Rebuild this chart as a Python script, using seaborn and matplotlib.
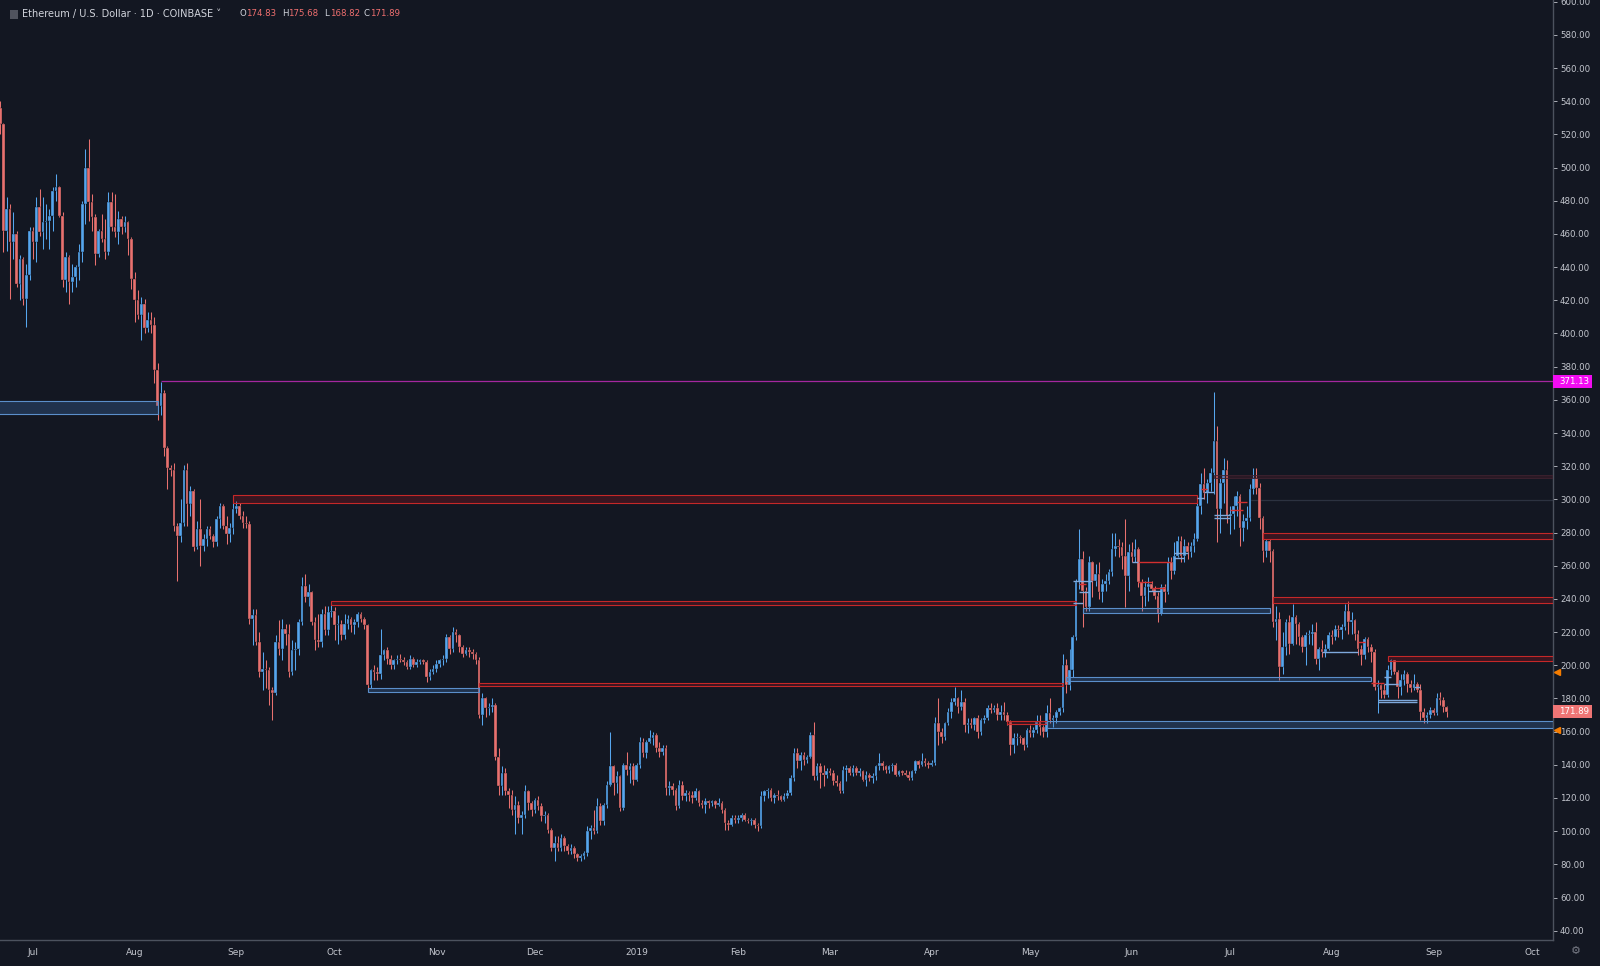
import matplotlib
matplotlib.use("Agg")
import matplotlib.pyplot as plt
import matplotlib.dates as mdates
from matplotlib.patches import Rectangle
from matplotlib.transforms import blended_transform_factory
import pandas as pd
import seaborn as sns

# daily candles: (open, high, low, close), one list per month
jun18 = [
    (536, 540, 520, 526), (526, 527, 449, 462), (462, 482, 450, 475), (475, 478, 421, 455),
    (455, 473, 445, 460), (460, 462, 428, 430), (430, 447, 420, 445), (445, 446, 417, 421),
    (421, 442, 404, 435), (435, 464, 432, 462),
]
jul18 = [
    (462, 464, 445, 455), (455, 482, 443, 476), (476, 487, 459, 461), (461, 482, 451, 467),
    (467, 478, 457, 468), (468, 475, 451, 471), (471, 488, 462, 486), (486, 496, 480, 488),
    (488, 489, 470, 471), (471, 473, 428, 432), (432, 449, 425, 446), (446, 447, 418, 431),
    (431, 442, 425, 434), (434, 441, 428, 440), (440, 454, 432, 449), (449, 480, 443, 478),
    (478, 511, 466, 500), (500, 517, 468, 479), (479, 484, 462, 470), (470, 472, 441, 448),
    (448, 463, 446, 462), (462, 472, 455, 457), (457, 469, 445, 449), (449, 485, 447, 479),
    (479, 485, 462, 464), (464, 484, 458, 461), (461, 474, 454, 469), (469, 471, 460, 464),
    (464, 471, 461, 467), (467, 468, 447, 457), (457, 458, 427, 433),
]
aug18 = [
    (433, 437, 407, 420), (420, 426, 409, 411), (411, 422, 396, 418), (418, 421, 400, 403),
    (403, 413, 401, 408), (408, 413, 400, 405), (405, 410, 370, 378), (378, 382, 348, 356),
    (356, 371, 351, 364), (364, 366, 326, 331), (331, 332, 306, 319), (319, 321, 314, 318),
    (318, 322, 281, 284), (284, 286, 251, 278), (278, 300, 274, 286), (286, 321, 284, 318),
    (318, 322, 284, 297), (297, 308, 290, 305), (305, 306, 269, 271), (271, 287, 270, 282),
    (282, 300, 260, 272), (272, 279, 269, 276), (276, 284, 272, 282), (282, 284, 276, 278),
    (278, 279, 271, 274), (274, 290, 272, 288), (288, 298, 283, 296), (296, 297, 282, 284),
    (284, 290, 273, 279), (279, 286, 274, 283), (283, 302, 279, 294),
]
sep18 = [
    (294, 299, 292, 296), (296, 298, 288, 290), (290, 293, 283, 286), (286, 290, 283, 285),
    (285, 287, 225, 228), (228, 234, 212, 230), (230, 234, 212, 214), (214, 220, 193, 196),
    (196, 208, 185, 198), (198, 203, 186, 197), (197, 199, 176, 185), (185, 187, 167, 183),
    (183, 218, 182, 214), (214, 227, 206, 210), (210, 228, 203, 222), (222, 225, 212, 219),
    (219, 225, 193, 196), (196, 215, 194, 209), (209, 214, 197, 210), (210, 228, 206, 226),
    (226, 253, 224, 248), (248, 255, 238, 241), (241, 249, 236, 244), (244, 245, 224, 226),
    (226, 229, 209, 215), (215, 231, 211, 214), (214, 234, 211, 231), (231, 236, 218, 221),
    (221, 236, 218, 232), (232, 238, 229, 233),
]
oct18 = [
    (233, 235, 215, 224), (224, 230, 213, 225), (225, 227, 215, 218), (218, 231, 216, 225),
    (225, 230, 222, 228), (228, 229, 220, 224), (224, 228, 219, 226), (226, 232, 223, 231),
    (231, 232, 226, 228), (228, 229, 222, 224), (224, 225, 185, 188), (188, 198, 186, 197),
    (197, 200, 191, 196), (196, 199, 191, 195), (195, 222, 192, 206), (206, 210, 203, 209),
    (209, 211, 201, 204), (204, 206, 198, 200), (200, 204, 198, 203), (203, 206, 201, 204),
    (204, 207, 202, 203), (203, 205, 200, 202), (202, 203, 198, 199), (199, 206, 198, 204),
    (204, 205, 199, 200), (200, 204, 199, 202), (202, 204, 201, 203), (203, 204, 201, 202),
    (202, 203, 190, 193), (193, 198, 191, 196), (196, 200, 195, 198),
]
nov18 = [
    (198, 203, 196, 201), (201, 204, 199, 203), (203, 206, 200, 204), (204, 219, 202, 217),
    (217, 218, 207, 210), (210, 223, 208, 220), (220, 222, 214, 218), (218, 219, 208, 211),
    (211, 212, 205, 207), (207, 211, 206, 209), (209, 211, 205, 208), (208, 210, 204, 207),
    (207, 208, 201, 203), (203, 205, 168, 170), (170, 183, 164, 180), (180, 181, 169, 174),
    (174, 177, 170, 175), (175, 180, 172, 176), (176, 177, 143, 145), (145, 150, 122, 127),
    (127, 139, 122, 135), (135, 138, 122, 124), (124, 126, 114, 122), (122, 125, 110, 113),
    (113, 121, 98, 116), (116, 118, 105, 108), (108, 112, 98, 110), (110, 128, 108, 124),
    (124, 125, 113, 117), (117, 118, 109, 113),
]
dec18 = [
    (113, 120, 111, 119), (119, 121, 113, 115), (115, 117, 106, 109), (109, 112, 105, 110),
    (110, 111, 99, 101), (101, 102, 88, 90), (90, 97, 82, 93), (93, 97, 88, 90),
    (90, 98, 88, 96), (96, 97, 88, 91), (91, 92, 86, 88), (88, 92, 86, 90),
    (90, 91, 84, 86), (86, 87, 82, 84), (84, 86, 82, 85), (85, 88, 83, 87),
    (87, 103, 85, 100), (100, 104, 95, 102), (102, 113, 98, 100), (100, 120, 99, 115),
    (115, 117, 104, 106), (106, 117, 104, 116), (116, 130, 114, 128), (128, 160, 127, 139),
    (139, 140, 122, 129), (129, 136, 123, 133), (133, 134, 112, 114), (114, 141, 113, 140),
    (140, 148, 134, 137), (137, 141, 129, 139), (139, 141, 128, 131),
]
jan19 = [
    (131, 141, 130, 140), (140, 157, 138, 154), (154, 156, 145, 147), (147, 155, 144, 154),
    (154, 161, 153, 156), (156, 160, 152, 158), (158, 159, 148, 150), (150, 154, 145, 148),
    (148, 152, 146, 150), (150, 152, 122, 126), (126, 130, 122, 127), (127, 129, 122, 125),
    (125, 126, 113, 115), (115, 131, 114, 128), (128, 130, 119, 121), (121, 125, 118, 123),
    (123, 124, 118, 122), (122, 124, 117, 120), (120, 126, 119, 124), (124, 125, 115, 117),
    (117, 119, 114, 116), (116, 120, 111, 118), (118, 119, 114, 117), (117, 119, 115, 118),
    (118, 119, 114, 116), (116, 120, 115, 117), (117, 118, 111, 113), (113, 114, 101, 105),
    (105, 107, 101, 104), (104, 110, 103, 108), (108, 110, 105, 107),
]
feb19 = [
    (107, 110, 105, 108), (108, 111, 106, 110), (110, 111, 106, 107), (107, 108, 105, 106),
    (106, 108, 104, 107), (107, 108, 102, 104), (104, 105, 100, 103), (103, 124, 102, 121),
    (121, 125, 118, 124), (124, 126, 120, 125), (125, 126, 118, 120), (120, 123, 117, 122),
    (122, 125, 119, 121), (121, 122, 118, 119), (119, 123, 118, 121), (121, 125, 120, 123),
    (123, 134, 122, 132), (132, 150, 130, 147), (147, 150, 138, 142), (142, 148, 137, 146),
    (146, 148, 140, 143), (143, 146, 141, 145), (145, 160, 144, 158), (158, 166, 131, 133),
    (133, 141, 131, 139), (139, 141, 126, 135), (135, 140, 127, 134), (134, 138, 132, 136),
]
mar19 = [
    (136, 138, 134, 135), (135, 137, 128, 130), (130, 134, 127, 129), (129, 130, 123, 124),
    (124, 139, 123, 137), (137, 140, 130, 138), (138, 139, 134, 135), (135, 140, 133, 138),
    (138, 139, 134, 135), (135, 138, 133, 136), (136, 137, 130, 131), (131, 136, 127, 134),
    (134, 135, 130, 132), (132, 135, 129, 133), (133, 140, 131, 139), (139, 147, 137, 141),
    (141, 142, 137, 139), (139, 140, 135, 137), (137, 140, 135, 139), (139, 141, 136, 140),
    (140, 141, 133, 134), (134, 137, 133, 136), (136, 137, 134, 135), (135, 137, 133, 134),
    (134, 136, 131, 132), (132, 137, 131, 136), (136, 143, 135, 142), (142, 143, 138, 140),
    (140, 147, 139, 142), (142, 144, 139, 141), (141, 142, 138, 140),
]
apr19 = [
    (140, 143, 139, 141), (141, 169, 140, 165), (165, 180, 152, 160), (160, 162, 153, 157),
    (157, 166, 155, 165), (165, 174, 164, 172), (172, 180, 168, 178), (178, 187, 176, 180),
    (180, 181, 171, 175), (175, 185, 173, 178), (178, 180, 160, 164), (164, 168, 159, 165),
    (165, 168, 162, 164), (164, 169, 161, 168), (168, 170, 156, 160), (160, 168, 158, 167),
    (167, 170, 165, 168), (168, 176, 167, 174), (174, 177, 171, 173), (173, 176, 172, 174),
    (174, 177, 167, 170), (170, 176, 167, 172), (172, 178, 167, 170), (170, 172, 164, 166),
    (166, 167, 146, 152), (152, 159, 147, 156), (156, 159, 152, 157), (157, 158, 153, 156),
    (156, 157, 149, 152), (152, 162, 151, 161),
]
may19 = [
    (161, 164, 157, 159), (159, 163, 157, 161), (161, 170, 159, 166), (166, 170, 158, 163),
    (163, 164, 157, 160), (160, 176, 157, 171), (171, 180, 165, 167), (167, 170, 163, 168),
    (168, 173, 165, 172), (172, 175, 170, 174), (174, 207, 172, 200), (200, 204, 183, 188),
    (188, 210, 185, 197), (197, 218, 193, 217), (217, 252, 215, 250), (250, 282, 246, 264),
    (264, 269, 223, 245), (245, 247, 233, 235), (235, 266, 233, 262), (262, 263, 241, 251),
    (251, 261, 248, 255), (255, 262, 240, 244), (244, 252, 238, 249), (249, 255, 245, 251),
    (251, 258, 249, 256), (256, 280, 254, 270), (270, 280, 266, 272), (272, 276, 265, 271),
    (271, 274, 258, 266), (266, 288, 235, 254), (254, 273, 245, 268),
]
jun19 = [
    (268, 274, 262, 265), (265, 276, 262, 270), (270, 271, 247, 250), (250, 252, 233, 242),
    (242, 251, 236, 247), (247, 253, 239, 249), (249, 251, 245, 246), (246, 248, 240, 242),
    (242, 244, 226, 231), (231, 249, 230, 247), (247, 249, 238, 244), (244, 265, 243, 262),
    (262, 265, 252, 257), (257, 274, 255, 266), (266, 278, 265, 275), (275, 278, 262, 266),
    (266, 276, 262, 272), (272, 274, 264, 268), (268, 274, 265, 272), (272, 280, 268, 276),
    (276, 298, 275, 296), (296, 316, 291, 309), (309, 319, 300, 304), (304, 312, 298, 310),
    (310, 319, 305, 316), (316, 365, 303, 335), (335, 344, 274, 294), (294, 313, 280, 310),
    (310, 325, 298, 318), (318, 324, 286, 290),
]
jul19 = [
    (290, 296, 279, 291), (291, 302, 282, 296), (296, 305, 290, 302), (302, 303, 272, 283),
    (283, 291, 275, 287), (287, 296, 282, 289), (289, 309, 287, 306), (306, 319, 303, 313),
    (313, 319, 303, 307), (307, 310, 282, 289), (289, 290, 262, 269), (269, 276, 265, 275),
    (275, 276, 262, 269), (269, 270, 223, 226), (226, 236, 215, 228), (228, 232, 191, 199),
    (199, 220, 195, 211), (211, 228, 206, 226), (226, 230, 207, 213), (213, 237, 212, 229),
    (229, 230, 213, 225), (225, 226, 212, 217), (217, 218, 208, 211), (211, 220, 200, 218),
    (218, 221, 213, 219), (219, 225, 212, 220), (220, 226, 201, 204), (204, 211, 197, 210),
    (210, 215, 205, 208), (208, 213, 205, 210), (210, 220, 209, 218),
]
aug19 = [
    (218, 221, 213, 217), (217, 224, 215, 222), (222, 224, 217, 221), (221, 225, 216, 223),
    (223, 237, 221, 233), (233, 239, 219, 226), (226, 232, 219, 227), (227, 228, 215, 219),
    (219, 221, 206, 210), (210, 212, 200, 206), (206, 217, 204, 216), (216, 217, 208, 211),
    (211, 213, 202, 208), (208, 210, 185, 187), (187, 191, 171, 188), (188, 189, 180, 185),
    (185, 189, 180, 182), (182, 200, 181, 197), (197, 204, 194, 203), (203, 203, 195, 196),
    (196, 197, 180, 187), (187, 195, 182, 191), (191, 197, 188, 195), (195, 196, 184, 189),
    (189, 191, 184, 186), (186, 195, 185, 189), (189, 190, 184, 185), (185, 189, 167, 172),
    (172, 174, 165, 168), (168, 172, 165, 170), (170, 175, 168, 173),
]
sep19 = [
    (173, 174, 170, 171), (171, 183, 170, 180), (180, 184, 176, 179), (179, 181, 172, 175),
    (174.83, 175.68, 168.82, 171.89),
]
candle_months = [
    ("2018-06-21", jun18), ("2018-07-01", jul18), ("2018-08-01", aug18), ("2018-09-01", sep18),
    ("2018-10-01", oct18), ("2018-11-01", nov18), ("2018-12-01", dec18), ("2019-01-01", jan19),
    ("2019-02-01", feb19), ("2019-03-01", mar19), ("2019-04-01", apr19), ("2019-05-01", may19),
    ("2019-06-01", jun19), ("2019-07-01", jul19), ("2019-08-01", aug19), ("2019-09-01", sep19),
]

# drawn rectangles: (start, end, low, high); end None = runs to the right edge
red_zones = [
    ("2018-08-31", "2019-06-21", 297.6, 302.7),
    ("2018-09-30", "2019-05-15", 236.1, 238.6),
    ("2018-11-14", "2019-05-11", 187.3, 189.5),
    ("2019-04-24", "2019-05-06", 164.4, 166.4),
    ("2019-07-11", None, 276.1, 279.7),
    ("2019-07-14", None, 237.4, 241.0),
    ("2019-08-18", None, 202.3, 205.6),
]
blue_zones = [
    ("2018-06-20", "2018-08-08", 351.5, 359.0),
    ("2018-10-11", "2018-11-14", 184.1, 186.1),
    ("2019-05-06", None, 162.2, 166.6),
    ("2019-05-12", "2019-08-13", 190.3, 192.8),
    ("2019-05-17", "2019-07-13", 231.4, 234.4),
]
faint_zones = [("2019-06-26", None, 313.0, 314.8)]
# short level lines: (start, end, price)
red_segments = [
    ("2019-06-03", "2019-06-13", 262.0), ("2019-06-03", "2019-06-07", 250.0),
    ("2019-06-07", "2019-06-11", 246.5), ("2019-06-22", "2019-06-24", 306.5),
    ("2019-07-03", "2019-07-06", 298.7), ("2019-07-01", "2019-07-05", 293.5),
    ("2019-05-16", "2019-05-18", 249.0), ("2019-08-09", "2019-08-11", 214.3),
    ("2019-08-13", "2019-08-17", 189.6),
]
blue_segments = [
    ("2019-06-01", "2019-06-03", 262.0), ("2019-06-06", "2019-06-10", 245.0),
    ("2019-06-14", "2019-06-18", 267.6), ("2019-06-14", "2019-06-17", 264.5),
    ("2019-06-21", "2019-06-23", 300.7), ("2019-06-23", "2019-06-26", 304.7),
    ("2019-06-26", "2019-07-01", 290.7), ("2019-06-26", "2019-07-01", 288.6),
    ("2019-05-14", "2019-05-20", 250.5), ("2019-05-16", "2019-05-19", 244.4),
    ("2019-05-14", "2019-05-17", 237.5), ("2019-07-29", "2019-08-09", 208.2),
    ("2019-08-17", "2019-08-19", 193.2), ("2019-08-17", "2019-08-21", 189.0),
    ("2019-08-15", "2019-08-27", 179.1), ("2019-08-15", "2019-08-27", 177.6),
    ("2019-08-26", "2019-08-28", 187.0),
]
resistance_start, resistance_level = "2018-08-09", 371.13
grey_start, grey_level = "2019-07-07", 299.7
alert_levels = [196.0, 161.0]
last_price = 171.89

price_ticks = list(range(40, 601, 20))
month_ticks = pd.date_range("2018-07-01", "2019-10-01", freq="MS")
month_labels = ["Jul", "Aug", "Sep", "Oct", "Nov", "Dec", "2019", "Feb", "Mar",
                "Apr", "May", "Jun", "Jul", "Aug", "Sep", "Oct"]
header_title = "Ethereum / U.S. Dollar \u00b7 1D \u00b7 COINBASE \u02c5"
header_ohlc = [("O", "174.83"), ("H", "175.68"), ("L", "168.82"), ("C", "171.89")]

BG = "#131722"
UP = "#56a6ee"
DOWN = "#e8716f"
TEXT = "#c4c7cf"
AXLINE = "#4c525e"

sns.set_theme(style="dark", rc={"axes.facecolor": BG, "figure.facecolor": BG,
                                "axes.edgecolor": AXLINE, "axes.grid": False})
plt.rcParams["font.family"] = ["DejaVu Sans"]

frames = []
for start, rows in candle_months:
    f = pd.DataFrame(rows, columns=["open", "high", "low", "close"])
    f["date"] = pd.date_range(start, periods=len(rows), freq="D")
    frames.append(f)
df = pd.concat(frames, ignore_index=True)
df["x"] = mdates.date2num(df["date"])
df["up"] = df["close"] >= df["open"]
df["bottom"] = df[["open", "close"]].min(axis=1)
df["height"] = (df["close"] - df["open"]).abs().clip(lower=0.5)

fig = plt.figure(figsize=(16, 9.66), dpi=100)
ax = fig.add_axes([0, 26 / 966, 1553 / 1600, 940 / 966])
jul1 = mdates.date2num(pd.Timestamp("2018-07-01"))
x0, x1 = jul1 - 10.06, jul1 + 463.4
ax.set_xlim(x0, x1)
ax.set_ylim(34.4, 601.0)

colors = df["up"].map({True: UP, False: DOWN})
ax.vlines(df["x"], df["low"], df["high"], colors=colors, linewidth=0.75, zorder=3)
ax.bar(df["x"], df["height"], bottom=df["bottom"], width=0.8, color=colors,
       edgecolor="#0f131c", linewidth=0.25, zorder=3)


def xnum(d):
    return x1 if d is None else mdates.date2num(pd.Timestamp(d))


def zone(start, end, lo, hi, face, edge, lw=0.8):
    a, b = xnum(start), xnum(end)
    ax.add_patch(Rectangle((a, lo), b - a, hi - lo, facecolor=face, edgecolor=edge,
                           linewidth=lw, zorder=4))


for s, e, lo, hi in red_zones:
    zone(s, e, lo, hi, (0.55, 0.08, 0.12, 0.32), "#c62828")
for s, e, lo, hi in blue_zones:
    zone(s, e, lo, hi, (0.25, 0.45, 0.70, 0.30), "#5b8fcb")
for s, e, lo, hi in faint_zones:
    zone(s, e, lo, hi, (0.45, 0.12, 0.18, 0.25), "#3f2230", lw=0.6)
for s, e, p in red_segments:
    ax.hlines(p, xnum(s), xnum(e), colors="#d32f2f", linewidth=1.0, zorder=4)
for s, e, p in blue_segments:
    ax.hlines(p, xnum(s), xnum(e), colors="#7fa9dc", linewidth=1.0, zorder=4)
ax.hlines(resistance_level, xnum(resistance_start), x1, colors="#a4279f", linewidth=0.9, zorder=4)
ax.hlines(grey_level, xnum(grey_start), x1, colors="#2c3240", linewidth=0.9, zorder=2)

# axes styling
for side in ["top", "left"]:
    ax.spines[side].set_visible(False)
for side in ["bottom", "right"]:
    ax.spines[side].set_color(AXLINE)
    ax.spines[side].set_linewidth(1.0)
ax.yaxis.tick_right()
ax.set_yticks(price_ticks)
ax.set_yticklabels([f"{v:.2f}" for v in price_ticks])
ax.set_xticks(mdates.date2num(month_ticks))
ax.set_xticklabels(month_labels)
ax.tick_params(axis="y", colors=TEXT, labelcolor=TEXT, labelsize=6.2, length=3,
               width=0.6, pad=2, left=False, right=True)
ax.tick_params(axis="x", colors=AXLINE, labelcolor=TEXT, labelsize=6.5, length=3,
               width=0.6, pad=3)
ax.set_xlabel("")
ax.set_ylabel("")

# price tags on the scale
trans = blended_transform_factory(ax.transAxes, ax.transData)
for level, face in [(resistance_level, "#f20cf2"), (last_price, "#ef7575")]:
    ax.add_patch(Rectangle((1.0, level - 3.9), 39 / 1553, 7.8, transform=trans,
                           facecolor=face, edgecolor="none", clip_on=False, zorder=6))
    ax.text(1.0 + 21 / 1553, level, f"{level:.2f}", transform=trans, color="white",
            fontsize=6.2, ha="center", va="center", clip_on=False, zorder=7)
for level in alert_levels:
    ax.plot([1.0 + 3.5 / 1553], [level], transform=trans, marker="<", markersize=4.2,
            color="#f57c00", linestyle="none", clip_on=False, zorder=7)

# header
fig.add_artist(Rectangle((10 / 1600, 1 - 19 / 966), 8 / 1600, 9 / 966,
                         transform=fig.transFigure, facecolor="#50535e", edgecolor="none"))
fig.text(22 / 1600, 1 - 14 / 966, header_title, color="#d1d4dc", fontsize=7,
         va="center", ha="left")
hx = [240, 282, 324, 364]
for (letter, value), px in zip(header_ohlc, hx):
    fig.text(px / 1600, 1 - 14 / 966, letter, color="#d1d4dc", fontsize=6.2, va="center")
    fig.text((px + 6) / 1600, 1 - 14 / 966, value, color="#ef6f6f", fontsize=6.2,
             va="center")
fig.text(1576 / 1600, 1 - 951 / 966, "\u2699", color="#787b86", fontsize=8,
         ha="center", va="center")

fig.savefig("out.png", dpi=100, facecolor=BG)
